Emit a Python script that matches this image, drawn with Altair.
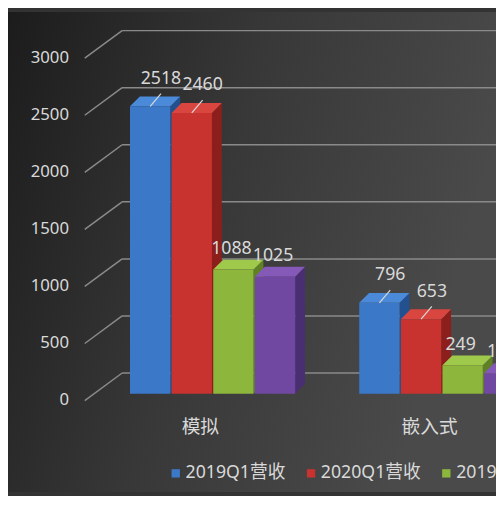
import altair as alt
import pandas as pd

# --- data ---
categories = ["模拟", "嵌入式"]
series = ["2019Q1营收", "2020Q1营收", "2019Q1利润", "2020Q1利润"]
rev_2019 = [2518, 796]
rev_2020 = [2460, 653]
profit_2019 = [1088, 249]
profit_2020 = [1025, 180]
y_ticks = [0, 500, 1000, 1500, 2000, 2500, 3000]

front_colors = ["#3b78c8", "#c8332f", "#8cb63c", "#7048a2"]
side_colors = ["#23508f", "#8c1f1b", "#5f8024", "#4a2e72"]
top_colors = ["#4a8ad9", "#d9463f", "#9fc94b", "#8459b7"]

FONT = "'Noto Sans', 'Noto Sans CJK SC', sans-serif"
TXT = "#d9d9d9"

# --- layout (pixels) ---
W, H = 418, 348
PAD_BOTTOM = 100
U = 3000 / H            # data units per vertical pixel
DEPTH = 10
CAT0, CAT_STEP = 117.5, 233
BAR_START, BAR_STEP, BAR_W = -71.5, 42.3, 41

rows = []
for ci, cat in enumerate(categories):
    for si, (name, vals) in enumerate(zip(series, [rev_2019, rev_2020, profit_2019, profit_2020])):
        left = CAT0 + ci * CAT_STEP + BAR_START + si * BAR_STEP
        rows.append(dict(cat=cat, series=name, si=si, bar=f"{ci}-{si}", val=vals[ci],
                         left=left, right=left + BAR_W, mid=left + BAR_W / 2, zero=0))
bars = pd.DataFrame(rows)

side = pd.concat([
    bars.assign(sx=bars.right, lo=0.0, hi=bars.val),
    bars.assign(sx=bars.right + DEPTH, lo=DEPTH * U, hi=bars.val + DEPTH * U),
])
top = pd.concat([
    bars.assign(ty=bars.val, tx=bars.left, tx2=bars.right),
    bars.assign(ty=bars.val + DEPTH * U, tx=bars.left + DEPTH, tx2=bars.right + DEPTH),
])

far = bars[bars.si < 2].assign(lx=lambda d: d.mid + 11, ly=lambda d: d.val + 28 * U,
                               ex=lambda d: d.mid + 11, ey=lambda d: d.val + 13 * U)
near = bars[bars.si >= 2].assign(lx=lambda d: d.mid - 2, ly=lambda d: d.val + 21 * U)

grid = pd.DataFrame({"t": y_ticks})
grid["front"] = grid.t - 7 * U
grid["back"] = grid.t + 21 * U

xs = alt.Scale(domain=[0, W], nice=False)
ys = alt.Scale(domain=[0, 3000], nice=False)

bg = alt.Chart(pd.DataFrame({"a": [0]})).mark_rect(
    color=alt.Gradient(gradient="linear", x1=0, y1=0, x2=1, y2=0.3,
                       stops=[alt.GradientStop(color="#1c1c1c", offset=0),
                              alt.GradientStop(color="#383838", offset=0.5),
                              alt.GradientStop(color="#4a4a4a", offset=1)])
).encode(x=alt.value(-78), x2=alt.value(W), y=alt.value(-40), y2=alt.value(H + PAD_BOTTOM))

diag = alt.Chart(grid).mark_rule(color="#8a8a8a", strokeWidth=1.5).encode(
    x=alt.value(0), x2=alt.value(38),
    y=alt.Y("front:Q", scale=ys, axis=None), y2="back:Q")
back = alt.Chart(grid).mark_rule(color="#8a8a8a", strokeWidth=1.5).encode(
    x=alt.value(38), x2=alt.value(W),
    y=alt.Y("back:Q", scale=ys, axis=None))
ylabels = alt.Chart(grid).mark_text(font=FONT, fontSize=17, color=TXT, align="right",
                                    baseline="middle").encode(
    x=alt.value(-16), y=alt.Y("front:Q", scale=ys, axis=None), text="t:Q")

front = alt.Chart(bars).mark_rect().encode(
    x=alt.X("left:Q", scale=xs, axis=None), x2="right:Q",
    y=alt.Y("val:Q", scale=ys, axis=None), y2="zero:Q",
    color=alt.Color("series:N", scale=alt.Scale(domain=series, range=front_colors), legend=None),
)
sides = alt.Chart(side).mark_area(orient="vertical").encode(
    x=alt.X("sx:Q", scale=xs, axis=None),
    y=alt.Y("lo:Q", scale=ys, axis=None), y2="hi:Q",
    detail="bar:N",
    color=alt.Color("series:N", scale=alt.Scale(domain=series, range=side_colors), legend=None),
)
tops = alt.Chart(top).mark_area(orient="horizontal").encode(
    y=alt.Y("ty:Q", scale=ys, axis=None),
    x=alt.X("tx:Q", scale=xs, axis=None), x2="tx2:Q",
    detail="bar:N",
    color=alt.Color("series:N", scale=alt.Scale(domain=series, range=top_colors), legend=None),
)

leaders = alt.Chart(far).mark_rule(color=TXT, strokeWidth=1.2).encode(
    x=alt.X("mid:Q", scale=xs, axis=None), x2="ex:Q",
    y=alt.Y("val:Q", scale=ys, axis=None), y2="ey:Q")
lab_far = alt.Chart(far).mark_text(font=FONT, fontSize=18, color=TXT, baseline="middle").encode(
    x=alt.X("lx:Q", scale=xs, axis=None), y=alt.Y("ly:Q", scale=ys, axis=None), text="val:Q")
lab_near = alt.Chart(near).mark_text(font=FONT, fontSize=18, color=TXT, baseline="middle").encode(
    x=alt.X("lx:Q", scale=xs, axis=None), y=alt.Y("ly:Q", scale=ys, axis=None), text="val:Q")

cats = pd.DataFrame({"cat": categories, "cx": [CAT0 + i * CAT_STEP for i in range(len(categories))]})
cat_text = alt.Chart(cats).mark_text(font=FONT, fontSize=19, color=TXT, baseline="middle").encode(
    x=alt.X("cx:Q", scale=xs, axis=None), y=alt.value(H + 34), text="cat:N")

leg = pd.DataFrame({"series": series, "lx": [92.5 + i * 137.5 for i in range(len(series))]})
leg_mark = alt.Chart(leg).mark_square(size=72, opacity=1).encode(
    x=alt.X("lx:Q", scale=xs, axis=None), y=alt.value(H + 81),
    color=alt.Color("series:N", scale=alt.Scale(domain=series, range=front_colors), legend=None))
leg_text = alt.Chart(leg).mark_text(font=FONT, fontSize=18, color=TXT, align="left",
                                    baseline="middle", dx=10).encode(
    x=alt.X("lx:Q", scale=xs, axis=None), y=alt.value(H + 81), text="series:N")

chart = alt.layer(
    bg, diag, back, ylabels, sides, tops, front, leaders, lab_far, lab_near,
    cat_text, leg_mark, leg_text
).resolve_scale(color="independent").properties(
    width=W, height=H,
    autosize=alt.AutoSizeParams(type="none"),
    padding={"left": 78, "top": 40, "right": 0, "bottom": PAD_BOTTOM},
).configure(background="#333333").configure_view(stroke=None)

chart.save("out.html", embed_options={"renderer": "svg", "actions": False})
